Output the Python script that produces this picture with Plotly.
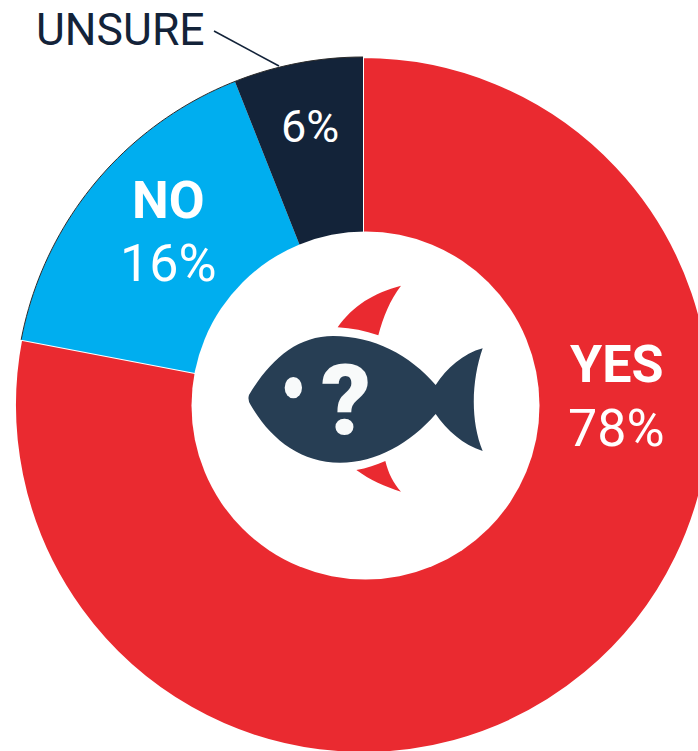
import math
import plotly.graph_objects as go

# Survey answers, percent of respondents
answers = ["YES", "NO", "UNSURE"]
shares = [78, 16, 6]
slice_colors = ["#EA2A30", "#00AEEF", "#132339"]

FIG_W, FIG_H = 711, 753
FISH_COLOR = "#273E54"


def px(x):
    return x / FIG_W


def py(y):
    return 1 - y / FIG_H


def icon_path(commands):
    """Turn icon commands, in a 3x local grid, into a paper-space SVG path."""
    out = []
    for item in commands:
        if isinstance(item, str):
            out.append(item)
        else:
            out.append(f"{px(230 + item[0] / 3):.5f},{py(270 + item[1] / 3):.5f}")
    return " ".join(out)


body = ["M", (57, 375), "C", (120, 270), (200, 198), (310, 198),
        "C", (430, 198), (540, 255), (617, 345),
        "C", (650, 295), (700, 250), (758, 235),
        "C", (725, 330), (720, 450), (758, 543),
        "C", (700, 525), (650, 480), (617, 432),
        "C", (540, 520), (440, 578), (330, 578),
        "C", (210, 578), (120, 505), (62, 405),
        "Q", (52, 390), (57, 375), "Z"]
top_fin = ["M", (323, 172), "C", (370, 105), (430, 70), (513, 47),
           "C", (480, 90), (460, 140), (445, 196),
           "C", (405, 182), (365, 175), (323, 172), "Z"]
bottom_fin = ["M", (379, 600), "C", (410, 595), (440, 585), (466, 573),
              "C", (475, 610), (490, 640), (513, 665),
              "C", (465, 650), (420, 630), (379, 600), "Z"]

CX, CY, R = 363, 405, 348
# Thin outline along the outer rim of the two smaller slices
start_deg = shares[0] / sum(shares) * 360
rim = []
for i in range(61):
    a = math.radians(start_deg + (360 - start_deg) * i / 60)
    rim.append((CX + R * math.sin(a), CY - R * math.cos(a)))
rim_path = "M " + " L ".join(f"{px(x):.5f},{py(y):.5f}" for x, y in rim)

shapes = [
    # White centre disc, sitting slightly off the ring's axis
    dict(type="circle", xref="paper", yref="paper",
         x0=px(365.5 - 174), x1=px(365.5 + 174),
         y0=py(405.5 + 174), y1=py(405.5 - 174),
         fillcolor="white", line_width=0),
    dict(type="path", xref="paper", yref="paper", path=rim_path,
         line=dict(color="#2A2A2A", width=1)),
    dict(type="line", xref="paper", yref="paper",
         x0=px(214), y0=py(31), x1=px(279), y1=py(66),
         line=dict(color="#132339", width=1.6)),
    dict(type="path", xref="paper", yref="paper", path=icon_path(top_fin),
         fillcolor=slice_colors[0], line_width=0),
    dict(type="path", xref="paper", yref="paper", path=icon_path(bottom_fin),
         fillcolor=slice_colors[0], line_width=0),
    dict(type="path", xref="paper", yref="paper", path=icon_path(body),
         fillcolor=FISH_COLOR, line_width=0),
    dict(type="circle", xref="paper", yref="paper",
         x0=px(230 + 164 / 3), x1=px(230 + 216 / 3),
         y0=py(270 + 385 / 3), y1=py(270 + 321 / 3),
         fillcolor="#F8FAFA", line_width=0),
]


def label(text, x, y, size, color="white", weight=400, anchor="center"):
    return dict(text=text, x=px(x), y=py(y), xref="paper", yref="paper",
                xanchor=anchor, yanchor="middle", showarrow=False,
                font=dict(family="Roboto", size=size, color=color, weight=weight))


annotations = [
    label(answers[0], 616, 364, 52, weight=700),
    label(f"{shares[0]}%", 616, 428, 52),
    label(answers[1], 168, 200, 52, weight=700),
    label(f"{shares[1]}%", 168, 263, 52),
    label(f"{shares[2]}%", 310, 127, 45),
    label(answers[2], 120, 30, 44.5, color="#132339", weight=400),
    label("?", 346, 400, 98, color="#F8FAFA", weight=900),
]

fig = go.Figure(
    go.Pie(
        labels=answers,
        values=shares,
        hole=0.48,
        sort=False,
        direction="clockwise",
        rotation=0,
        textinfo="none",
        hoverinfo="label+percent",
        marker=dict(colors=slice_colors, line=dict(color="white", width=[2, 0, 0])),
        domain=dict(x=[15 / FIG_W, 1], y=[0, 696 / FIG_H]),
    )
)
fig.update_layout(
    width=FIG_W,
    height=FIG_H,
    margin=dict(l=0, r=0, t=0, b=0),
    paper_bgcolor="white",
    showlegend=False,
    shapes=shapes,
    annotations=annotations,
)
fig.write_html(
    "out.html",
    post_script="document.documentElement.style.overflow='hidden';document.body.style.overflow='hidden';",
)
